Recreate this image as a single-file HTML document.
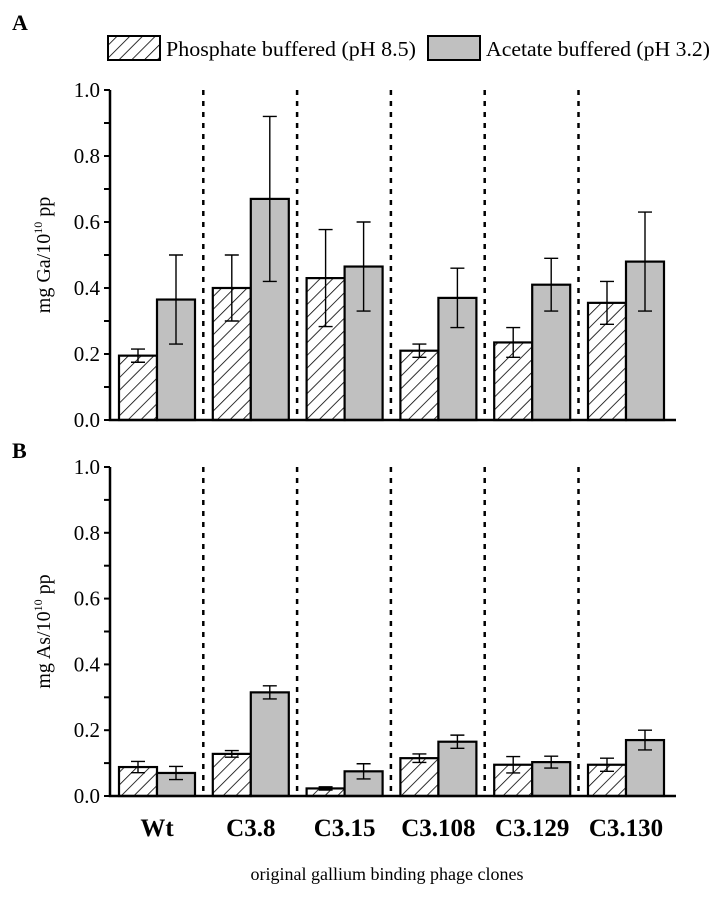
<!DOCTYPE html>
<html><head><meta charset="utf-8"><style>
body{margin:0;background:#fff}
svg{display:block;font-family:"Liberation Serif",serif}
</style></head><body>
<svg id="fig" width="716" height="898" viewBox="0 0 716 898" xmlns="http://www.w3.org/2000/svg">
<defs>
<pattern id="hatch" patternUnits="userSpaceOnUse" width="9" height="9" patternTransform="rotate(45)">
<rect width="9" height="9" fill="#fff"/><line x1="0" y1="0" x2="0" y2="9" stroke="#000" stroke-width="1.6"/>
</pattern>
</defs>
<text x="12" y="30" font-size="22" font-weight="bold">A</text>
<text x="12" y="458" font-size="22" font-weight="bold">B</text>
<g>
<rect x="108" y="36" width="52" height="24" fill="url(#hatch)" stroke="#000" stroke-width="2"/>
<text x="166" y="56" font-size="21" textLength="250" lengthAdjust="spacingAndGlyphs">Phosphate buffered (pH 8.5)</text>
<rect x="428" y="36" width="52" height="24" fill="#c0c0c0" stroke="#000" stroke-width="2"/>
<text x="486" y="56" font-size="21" textLength="224" lengthAdjust="spacingAndGlyphs">Acetate buffered (pH 3.2)</text>
</g>
<g id="pa"></g><g id="pb"></g>
<text x="387" y="880" font-size="18" text-anchor="middle">original gallium binding phage clones</text>
</svg>
<script>
const categories=["Wt","C3.8","C3.15","C3.108","C3.129","C3.130"];
const gaPhosphate=[0.195,0.40,0.43,0.21,0.235,0.355];
const gaPhosphateErr=[0.02,0.10,0.147,0.02,0.045,0.065];
const gaAcetate=[0.365,0.67,0.465,0.37,0.41,0.48];
const gaAcetateErr=[0.135,0.25,0.135,0.09,0.08,0.15];
const asPhosphate=[0.088,0.128,0.023,0.115,0.095,0.095];
const asPhosphateErr=[0.017,0.01,0.005,0.013,0.025,0.02];
const asAcetate=[0.07,0.315,0.075,0.165,0.103,0.17];
const asAcetateErr=[0.02,0.02,0.023,0.02,0.018,0.03];
const yTicks=["0.0","0.2","0.4","0.6","0.8","1.0"];
const NS="http://www.w3.org/2000/svg";
function mk(p,t,a){const e=document.createElementNS(NS,t);for(const k in a)e.setAttribute(k,a[k]);p.appendChild(e);return e;}
const x0=110,x1=676,gw=93.8,bw=38;
function xc(i){return 157+gw*i;}
function panel(gid,top,bot,title,phos,phosE,acet,acetE,showCats,tag){
 const g=document.getElementById(gid);
 const y=v=>bot-(bot-top)*v;
 for(let i=1;i<categories.length;i++){
  const l=mk(g,"line",{x1:110+gw*i-0.5,x2:110+gw*i-0.5,y1:top,y2:bot,stroke:"#000","stroke-width":2.5,"stroke-dasharray":"5,6"});
  
  
 }
 categories.forEach((c,i)=>{
  const sets=[[phos[i],phosE[i],"url(#hatch)",xc(i)-bw,"phosphate"],[acet[i],acetE[i],"#c0c0c0",xc(i),"acetate"]];
  sets.forEach(s=>{
   const r=mk(g,"rect",{x:s[3],y:y(s[0]),width:bw,height:bot-y(s[0]),fill:s[2],stroke:"#000","stroke-width":2.2});
   
   
   const cx=s[3]+bw/2,yt=y(s[0]+s[1]),yb=y(s[0]-s[1]);
   const e=mk(g,"path",{d:`M${cx},${yt}V${yb}M${cx-7},${yt}H${cx+7}M${cx-7},${yb}H${cx+7}`,stroke:"#000","stroke-width":1.4,fill:"none"});
   
   
  });
  if(showCats){const t=mk(g,"text",{x:xc(i),y:836,"font-size":25,"font-weight":"bold","text-anchor":"middle"});t.textContent=c;
   
   }
 });
 const ax=mk(g,"path",{d:`M${x0},${top}V${bot}H${x1}`,stroke:"#000","stroke-width":2.5,fill:"none"});
 
 
 for(let k=0;k<=10;k++){mk(g,"line",{x1:x0-6,x2:x0,y1:y(k/10),y2:y(k/10),stroke:"#000","stroke-width":2});}
 yTicks.forEach(s=>{const t=mk(g,"text",{x:x0-10,y:y(parseFloat(s))+7,"font-size":21,"text-anchor":"end"});t.textContent=s;
  
  });
 const cy=(top+bot)/2;
 const tt=mk(g,"text",{x:0,y:0,"font-size":20,"text-anchor":"middle",transform:`translate(50,${cy}) rotate(-90)`});
 tt.innerHTML=title;
 
 
}
panel("pa",90,420,'mg Ga/10<tspan font-size="12" dy="-8">10</tspan><tspan dy="8"> pp</tspan>',gaPhosphate,gaPhosphateErr,gaAcetate,gaAcetateErr,false,"ga");
panel("pb",467,796,'mg As/10<tspan font-size="12" dy="-8">10</tspan><tspan dy="8"> pp</tspan>',asPhosphate,asPhosphateErr,asAcetate,asAcetateErr,true,"as");
</script>
</body></html>
